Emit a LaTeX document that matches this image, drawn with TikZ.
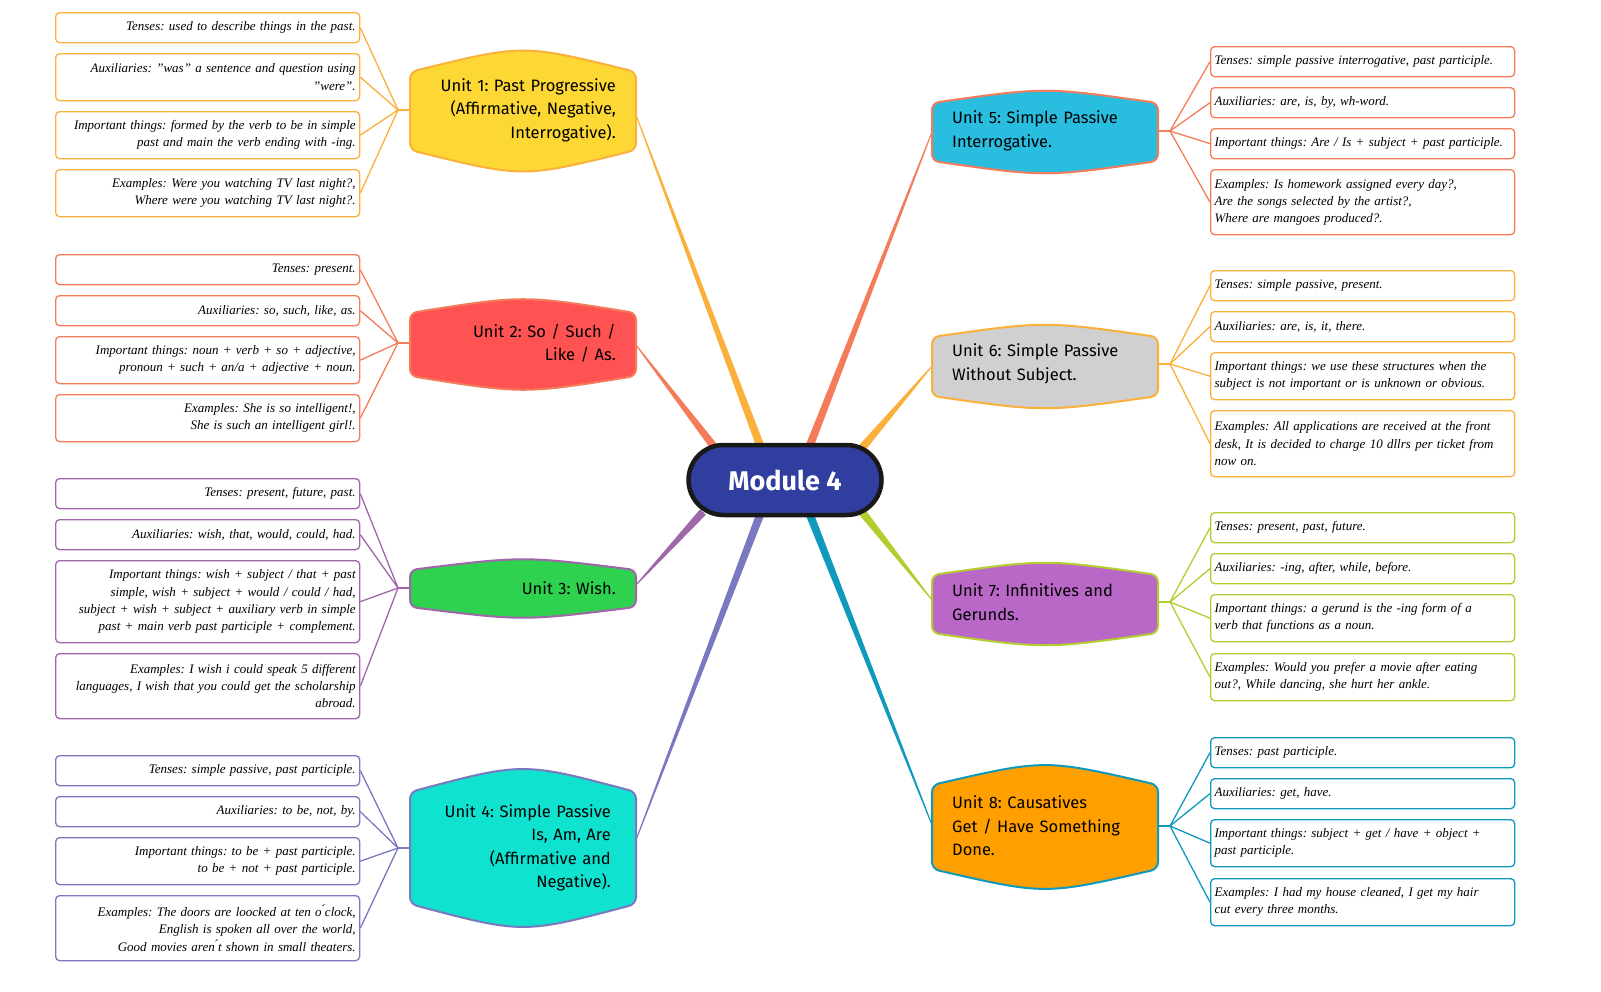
\documentclass[tikz,border=0pt]{standalone}
\usepackage{fontspec}
\setmainfont{Liberation Serif}
\newfontfamily\unitfont{Fira Sans}
\usetikzlibrary{calc}
\frenchspacing
\definecolor{cA}{HTML}{FBB03B}
\definecolor{cB}{HTML}{F47C5A}
\definecolor{cC}{HTML}{A066AA}
\definecolor{cD}{HTML}{7A78C0}
\definecolor{cE}{HTML}{B5CC2E}
\definecolor{cF}{HTML}{0E99BD}
\definecolor{fA}{HTML}{FDD835}
\definecolor{fB}{HTML}{FF5252}
\definecolor{fC}{HTML}{2ED24F}
\definecolor{fD}{HTML}{0FE3D0}
\definecolor{fE}{HTML}{29BDE0}
\definecolor{fF}{HTML}{D0D0D0}
\definecolor{fG}{HTML}{BA68C8}
\definecolor{fH}{HTML}{FFA000}
\definecolor{modblue}{HTML}{303F9F}
\tikzset{
 leaf/.style={draw, line width=1.3pt, rounded corners=4pt, fill=white, inner sep=4pt,
   text width=296pt, font=\fontsize{13}{17.2}\selectfont\itshape},
 leafL/.style={leaf, align=right, anchor=north west},
 leafR/.style={leaf, align=left, anchor=north west},
 br/.style={line width=1.3pt},
 utext/.style={font=\unitfont\fontsize{16.5}{23.5}\selectfont, text width=200pt, inner sep=0pt}
}
\newcommand\unitshape[7]{% x0 y0 x1 y1 bulge fill draw
 \filldraw[fill=#6, draw=#7, line width=2pt, rounded corners=7pt]
  (#1,#2) .. controls ({(#1+#3)/2},{#2-2*#5}) .. (#3,#2) -- (#3,#4)
  .. controls ({(#1+#3)/2},{#4+2*#5}) .. (#1,#4) -- cycle;}
\newcommand\taper[4]{% color A B width
 \fill[#1] ($(#2)!#4!90:(#3)$) -- ($(#3)!0.5pt!-90:(#2)$) -- ($(#3)!0.5pt!90:(#2)$) -- ($(#2)!#4!-90:(#3)$) -- cycle;}
\newcommand\LL[6]{% name y0 height color text hub
 \node[leafL, draw=#4, minimum height=#3pt] (#1) at (55,#2) {#5};
 \draw[br, #4] (#6) -- (#1.east);}
\newcommand\RL[6]{%
 \node[leafR, draw=#4, minimum height=#3pt] (#1) at (1210,#2) {#5};
 \draw[br, #4] (#6) -- (#1.west);}
\begin{document}
\begin{tikzpicture}[x=1pt,y=-1pt]
\coordinate (c1) at (760,445); \coordinate (c2) at (715,448);
\coordinate (c3) at (703,512); \coordinate (c4) at (760,515);
\coordinate (c5) at (810,445); \coordinate (c6) at (862,448);
\coordinate (c7) at (862,512); \coordinate (c8) at (810,515);
\coordinate (u1) at (636,115); \coordinate (u2) at (636,345);
\coordinate (u3) at (636,585); \coordinate (u4) at (636,840);
\coordinate (u5) at (932,132); \coordinate (u6) at (932,366);
\coordinate (u7) at (932,600); \coordinate (u8) at (932,825);
\taper{cA}{c1}{u1}{4pt}
\taper{cB}{c2}{u2}{4pt}
\taper{cC}{c3}{u3}{4pt}
\taper{cD}{c4}{u4}{4pt}
\taper{cB}{c5}{u5}{4pt}
\taper{cA}{c6}{u6}{4pt}
\taper{cE}{c7}{u7}{4pt}
\taper{cF}{c8}{u8}{4pt}
\node[draw=black!90, line width=4.5pt, fill=modblue, rounded corners=35pt,
  minimum width=193pt, minimum height=70pt, text=white,
  font=\unitfont\bfseries\fontsize{27}{30}\selectfont] (center) at (785,480) {Module 4};
\unitshape{410}{72}{636}{150}{14}{fA}{cA}
\node[utext, align=right, anchor=east] (t1) at (616,110) {Unit 1: Past Progressive\\(Affirmative, Negative,\\Interrogative).};
\unitshape{410}{313}{636}{376}{9}{fB}{cB}
\node[utext, align=right, anchor=east] (t2) at (616,343) {Unit 2: So / Such /\\Like / As.};
\unitshape{410}{570}{636}{607}{7}{fC}{cC}
\node[utext, align=right, anchor=east] (t3) at (616,588) {Unit 3: Wish.};
\unitshape{410}{792}{636}{904}{15}{fD}{cD}
\node[utext, align=right, anchor=east] (t4) at (611,848) {Unit 4: Simple Passive\\Is, Am, Are\\(Affirmative and\\Negative).};
\unitshape{932}{103}{1158}{161}{8}{fE}{cB}
\node[utext, align=left, anchor=west] (t5) at (952,131) {Unit 5: Simple Passive\\Interrogative.};
\unitshape{932}{337}{1158}{396}{8}{fF}{cA}
\node[utext, align=left, anchor=west] (t6) at (952,364) {Unit 6: Simple Passive\\Without Subject.};
\unitshape{932}{575}{1158}{633}{8}{fG}{cE}
\node[utext, align=left, anchor=west] (t7) at (952,602) {Unit 7: Infinitives and\\Gerunds.};
\unitshape{932}{785}{1158}{869}{13}{fH}{cF}
\node[utext, align=left, anchor=west] (t8) at (952,826) {Unit 8: Causatives\\Get / Have Something\\Done.};
\coordinate (h1) at (398,110); \coordinate (h2) at (398,343);
\coordinate (h3) at (398,588); \coordinate (h4) at (398,848);
\coordinate (h5) at (1170,131); \coordinate (h6) at (1170,364);
\coordinate (h7) at (1170,602); \coordinate (h8) at (1170,826);
\coordinate (e1) at (410,110); \coordinate (e2) at (410,343);
\coordinate (e3) at (410,588); \coordinate (e4) at (410,848);
\coordinate (e5) at (1158,131); \coordinate (e6) at (1158,364);
\coordinate (e7) at (1158,602); \coordinate (e8) at (1158,826);
\draw[br,cA] (h1) -- (e1); \draw[br,cB] (h2) -- (e2);
\draw[br,cC] (h3) -- (e3); \draw[br,cD] (h4) -- (e4);
\draw[br,cB] (h5) -- (e5); \draw[br,cA] (h6) -- (e6);
\draw[br,cE] (h7) -- (e7); \draw[br,cF] (h8) -- (e8);
\LL{a1}{12}{30}{cA}{Tenses: used to describe things in the past.}{h1}
\LL{a2}{53}{47}{cA}{Auxiliaries: "was" a sentence and question using\\"were".}{h1}
\LL{a3}{111}{47}{cA}{Important things: formed by the verb to be in simple\\past and main the verb ending with -ing.}{h1}
\LL{a4}{169}{47}{cA}{Examples: Were you watching TV last night?,\\Where were you watching TV last night?.}{h1}
\LL{b1}{254}{30}{cB}{Tenses: present.}{h2}
\LL{b2}{295}{30}{cB}{Auxiliaries: so, such, like, as.}{h2}
\LL{b3}{336}{47}{cB}{Important things: noun + verb + so + adjective,\\pronoun + such + an/a + adjective + noun.}{h2}
\LL{b4}{394}{47}{cB}{Examples: She is so intelligent!,\\She is such an intelligent girl!.}{h2}
\LL{d1}{478}{30}{cC}{Tenses: present, future, past.}{h3}
\LL{d2}{519}{30}{cC}{Auxiliaries: wish, that, would, could, had.}{h3}
\LL{d3}{560}{82}{cC}{Important things: wish + subject / that + past\\simple, wish + subject + would / could / had,\\subject + wish + subject + auxiliary verb in simple\\past + main verb past participle + complement.}{h3}
\LL{d4}{653}{65}{cC}{Examples: I wish i could speak 5 different\\languages, I wish that you could get the scholarship\\abroad.}{h3}
\LL{g1}{755}{30}{cD}{Tenses: simple passive, past participle.}{h4}
\LL{g2}{796}{30}{cD}{Auxiliaries: to be, not, by.}{h4}
\LL{g3}{837}{47}{cD}{Important things: to be + past participle.\\to be + not + past participle.}{h4}
\LL{g4}{895}{65}{cD}{Examples: The doors are loocked at ten o\'{}clock,\\English is spoken all over the world,\\Good movies aren\'{}t shown in small theaters.}{h4}
\RL{p1}{46}{30}{cB}{Tenses: simple passive interrogative, past participle.}{h5}
\RL{p2}{87}{30}{cB}{Auxiliaries: are, is, by, wh-word.}{h5}
\RL{p3}{128}{30}{cB}{Important things: Are / Is + subject + past participle.}{h5}
\RL{p4}{169}{65}{cB}{Examples: Is homework assigned every day?,\\Are the songs selected by the artist?,\\Where are mangoes produced?.}{h5}
\RL{q1}{270}{30}{cA}{Tenses: simple passive, present.}{h6}
\RL{q2}{311}{30}{cA}{Auxiliaries: are, is, it, there.}{h6}
\RL{q3}{352}{47}{cA}{Important things: we use these structures when the\\subject is not important or is unknown or obvious.}{h6}
\RL{q4}{410}{66}{cA}{Examples: All applications are received at the front\\desk, It is decided to charge 10 dllrs per ticket from\\now on.}{h6}
\RL{r1}{512}{30}{cE}{Tenses: present, past, future.}{h7}
\RL{r2}{553}{30}{cE}{Auxiliaries: -ing, after, while, before.}{h7}
\RL{r3}{594}{47}{cE}{Important things: a gerund is the -ing form of a\\verb that functions as a noun.}{h7}
\RL{r4}{653}{47}{cE}{Examples: Would you prefer a movie after eating\\out?, While dancing, she hurt her ankle.}{h7}
\RL{s1}{737}{30}{cF}{Tenses: past participle.}{h8}
\RL{s2}{778}{30}{cF}{Auxiliaries: get, have.}{h8}
\RL{s3}{819}{47}{cF}{Important things: subject + get / have + object +\\past participle.}{h8}
\RL{s4}{878}{47}{cF}{Examples: I had my house cleaned, I get my hair\\cut every three months.}{h8}
\pgfresetboundingbox
\useasboundingbox (0,0) rectangle (1601,991);
\end{tikzpicture}
\end{document}
